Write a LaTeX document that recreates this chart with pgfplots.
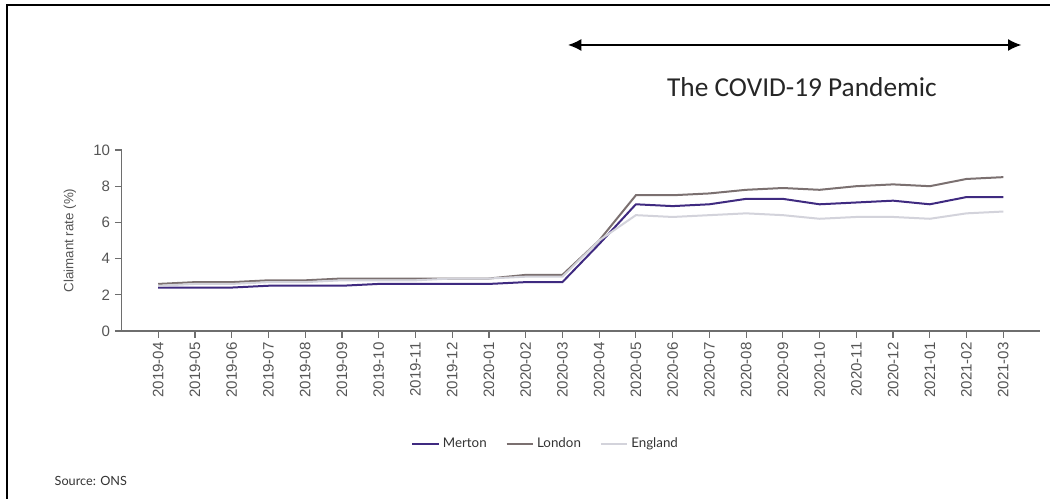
\documentclass[border=0pt]{standalone}
\usepackage{pgfplots}
\pgfplotsset{compat=1.18}
\usetikzlibrary{arrows.meta}
\usepackage{fontspec}
\setmainfont{Liberation Sans}
\newfontfamily\carlito{Carlito}
\newfontfamily\lato{Lato}
\definecolor{merton}{HTML}{3F2A80}
\definecolor{london}{HTML}{7B7070}
\definecolor{england}{HTML}{D3D3DB}
\definecolor{axisgray}{HTML}{6E6E6E}
\definecolor{labgray}{HTML}{555555}
\begin{document}
\begin{tikzpicture}
\begin{axis}[
  at={(91.125pt,126pt)}, anchor=south west,
  scale only axis, width=688.9pt, height=135.75pt,
  xmin=-1, xmax=24, ymin=0, ymax=10,
  axis lines*=left,
  axis line style={axisgray, line width=0.9pt},
  tick style={axisgray, line width=0.9pt},
  tick align=outside, major tick length=5pt,
  xtick={0,...,23},
  xticklabels={2019-04,2019-05,2019-06,2019-07,2019-08,2019-09,2019-10,2019-11,2019-12,2020-01,2020-02,2020-03,2020-04,2020-05,2020-06,2020-07,2020-08,2020-09,2020-10,2020-11,2020-12,2021-01,2021-02,2021-03},
  x tick label style={rotate=90, anchor=east, font=\fontsize{11.3}{13}\selectfont, text=labgray},
  ytick={0,2,4,6,8,10},
  y tick label style={font=\fontsize{11.3}{13}\selectfont, text=labgray},
  /pgf/number format/assume math mode=true,
  ylabel={Claimant rate (\%)},
  every axis y label/.style={at={(axis description cs:0,0.5)}, xshift=-38.6pt, rotate=90, anchor=center, font=\fontsize{10}{12}\selectfont, text=labgray},
  legend style={at={(axis description cs:0.462,-0.624)}, anchor=center, draw=none, fill=none, legend columns=3, font=\lato\fontsize{10}{12}\selectfont, text=black!80, /tikz/every even column/.append style={column sep=12pt}},
  legend image code/.code={\draw[#1, line width=1.8pt] (0pt,0pt) -- (20pt,0pt);},
  clip=false,
]
\addplot[merton, line width=1.5pt] coordinates {(0,2.4)(1,2.4)(2,2.4)(3,2.5)(4,2.5)(5,2.5)(6,2.6)(7,2.6)(8,2.6)(9,2.6)(10,2.7)(11,2.7)(12,4.8)(13,7.0)(14,6.9)(15,7.0)(16,7.3)(17,7.3)(18,7.0)(19,7.1)(20,7.2)(21,7.0)(22,7.4)(23,7.4)};
\addlegendentry{Merton}
\addplot[london, line width=1.5pt] coordinates {(0,2.6)(1,2.7)(2,2.7)(3,2.8)(4,2.8)(5,2.9)(6,2.9)(7,2.9)(8,2.9)(9,2.9)(10,3.1)(11,3.1)(12,5.0)(13,7.5)(14,7.5)(15,7.6)(16,7.8)(17,7.9)(18,7.8)(19,8.0)(20,8.1)(21,8.0)(22,8.4)(23,8.5)};
\addlegendentry{London}
\addplot[england, line width=1.5pt] coordinates {(0,2.5)(1,2.6)(2,2.6)(3,2.7)(4,2.7)(5,2.8)(6,2.8)(7,2.8)(8,2.9)(9,2.9)(10,3.0)(11,3.0)(12,5.0)(13,6.4)(14,6.3)(15,6.4)(16,6.5)(17,6.4)(18,6.2)(19,6.3)(20,6.3)(21,6.2)(22,6.5)(23,6.6)};
\addlegendentry{England}
\end{axis}
% frame (top and left edges)
\draw[line width=1.6pt] (5.25pt,0pt) -- (5.25pt,370.5pt) -- (787.5pt,370.5pt);
% pandemic arrow
\draw[line width=1.1pt, {Latex[length=10pt,width=9pt]}-{Latex[length=10pt,width=9pt]}] (426pt,340.5pt) -- (766pt,340.5pt);
\node[font=\carlito\fontsize{20.5}{24}\selectfont, text=black!85] at (601.5pt,309pt) {The COVID-19 Pandemic};
\node[anchor=west, font=\lato\fontsize{9.5}{11}\selectfont, text=black!80] at (37.5pt,13.5pt) {Source: ONS};
\pgfresetboundingbox
\path[use as bounding box] (0pt,0pt) rectangle (787.5pt,374.25pt);
\end{tikzpicture}
\end{document}
